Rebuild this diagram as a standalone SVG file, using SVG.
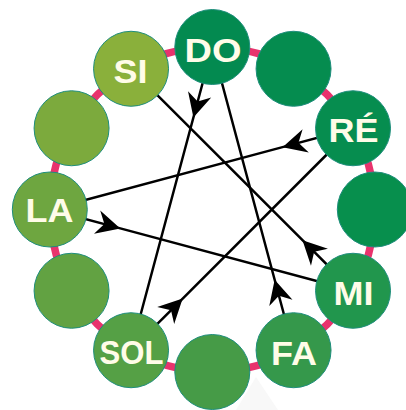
<svg xmlns="http://www.w3.org/2000/svg" width="406" height="410" viewBox="0 0 406 410">
  <style>
    .ring { fill: none; stroke: #E8336D; stroke-width: 7.5; }
    .node { stroke: #1E8E7C; stroke-width: 1; }
    .label { font-family: "Liberation Sans", Arial, sans-serif; font-weight: bold; font-size: 34px; fill: #FFFCE8; text-anchor: middle; }
    .edge { fill: none; stroke: #000; stroke-width: 2.5; marker-mid: url(#stealth); }
  </style>
  <defs>
    <marker id="stealth" markerUnits="userSpaceOnUse" viewBox="-26 -13 28 26" markerWidth="28" markerHeight="26" refX="0" refY="0" orient="auto">
      <path d="M0,0 L-24,-12 L-16.5,0 L-24,12 Z" fill="#000"/>
    </marker>
  </defs>

  <rect width="406" height="410" fill="#fff"/>
  <!-- faint sheen below the lower nodes -->
  <polygon points="256,377 278,410 236,410" fill="#F8F8F8"/>

  <!-- ring joining the twelve nodes -->
  <circle class="ring" cx="212.3" cy="209.5" r="162.5"/>

  <!-- connectors: circle of fifths FA > DO > SOL > RÉ > LA > MI > SI -->
  <g id="connectors">
    <path class="edge" d="M212.3,47 L193.41,117.51 L131.05,350.23"/>
    <path class="edge" d="M131.05,350.23 L182.67,298.61 L353.03,128.25"/>
    <path class="edge" d="M353.03,128.25 L282.52,147.14 L49.8,209.5"/>
    <path class="edge" d="M49.8,209.5 L120.31,228.39 L353.03,290.75"/>
    <path class="edge" d="M353.03,290.75 L302.5,240.2 L131.05,68.77"/>
    <path class="edge" d="M293.55,350.23 L274.66,279.72 L212.3,47"/>
  </g>

  <!-- nodes -->
  <g id="node-do">
    <circle class="node" cx="212.3" cy="47" r="37.5" fill="#038A50"/>
    <text class="label" x="213" y="61.5" textLength="57" lengthAdjust="spacingAndGlyphs">DO</text>
  </g>
  <g id="node-c-sharp">
    <circle class="node" cx="293.55" cy="68.77" r="37.5" fill="#058C4F"/>
  </g>
  <g id="node-re">
    <circle class="node" cx="353.03" cy="128.25" r="37.5" fill="#068D4F"/>
    <text class="label" x="353.5" y="142" textLength="50" lengthAdjust="spacingAndGlyphs">RÉ</text>
  </g>
  <g id="node-d-sharp">
    <circle class="node" cx="374.8" cy="209.5" r="37.5" fill="#078F4D"/>
  </g>
  <g id="node-mi">
    <circle class="node" cx="353.03" cy="290.75" r="37.5" fill="#21964D"/>
    <text class="label" x="353.5" y="305" textLength="40" lengthAdjust="spacingAndGlyphs">MI</text>
  </g>
  <g id="node-fa">
    <circle class="node" cx="293.55" cy="350.23" r="37.5" fill="#35984B"/>
    <text class="label" x="294" y="364.5" textLength="46" lengthAdjust="spacingAndGlyphs">FA</text>
  </g>
  <g id="node-f-sharp">
    <circle class="node" cx="212.3" cy="372" r="37.5" fill="#469B47"/>
  </g>
  <g id="node-sol">
    <circle class="node" cx="131.05" cy="350.23" r="37.5" fill="#55A045"/>
    <text class="label" x="131.5" y="364" textLength="64" lengthAdjust="spacingAndGlyphs">SOL</text>
  </g>
  <g id="node-g-sharp">
    <circle class="node" cx="71.57" cy="290.75" r="37.5" fill="#62A242"/>
  </g>
  <g id="node-la">
    <circle class="node" cx="49.8" cy="209.5" r="37.5" fill="#6EA640"/>
    <text class="label" x="49.5" y="222" textLength="48" lengthAdjust="spacingAndGlyphs">LA</text>
  </g>
  <g id="node-a-sharp">
    <circle class="node" cx="71.57" cy="128.25" r="37.5" fill="#7CAA3D"/>
  </g>
  <g id="node-si">
    <circle class="node" cx="131.05" cy="68.77" r="37.5" fill="#8AB03B"/>
    <text class="label" x="130.5" y="83" textLength="34" lengthAdjust="spacingAndGlyphs">SI</text>
  </g>
</svg>
